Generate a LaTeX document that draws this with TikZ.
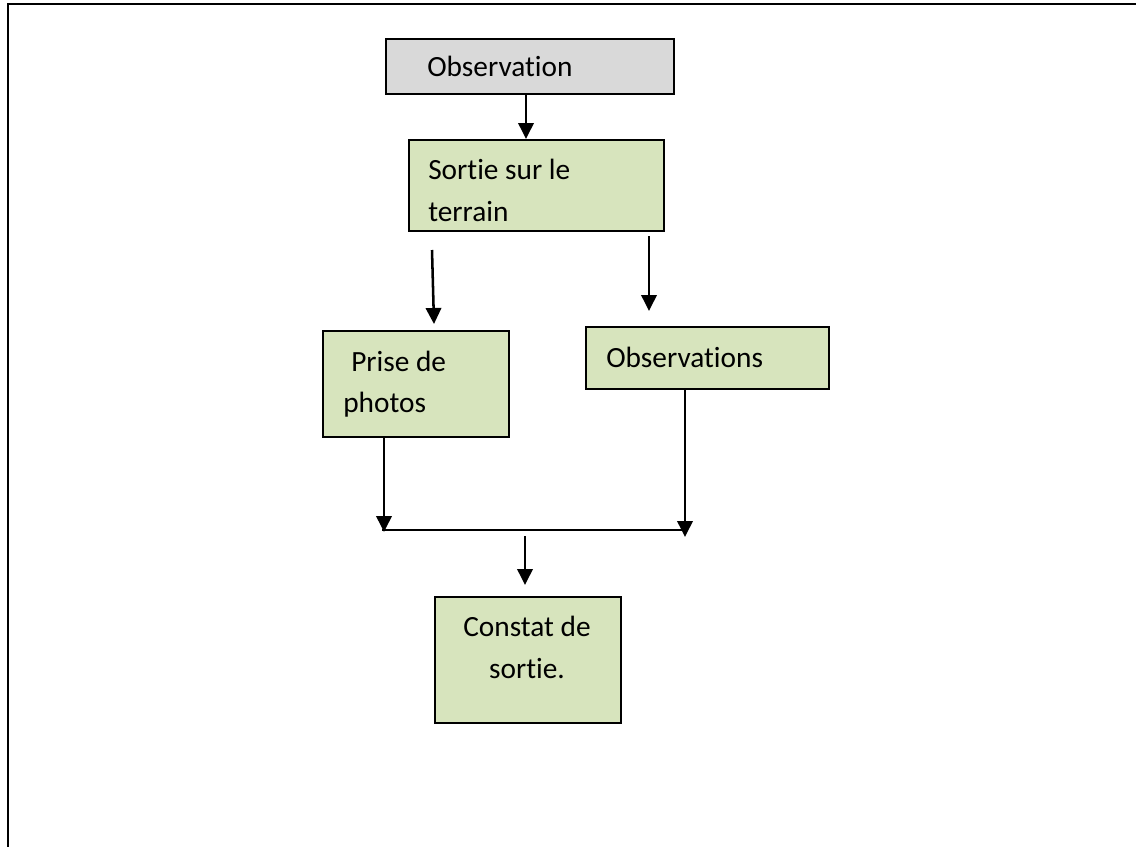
\documentclass[tikz,border=0pt]{standalone}
\usepackage{fontspec}
\setmainfont[Ligatures={NoCommon}]{Carlito}
\usetikzlibrary{arrows.meta}
\definecolor{boxgray}{HTML}{D9D9D9}
\definecolor{boxgreen}{HTML}{D7E4BD}
\tikzset{
  box/.style={draw=black, line width=1.8pt, inner sep=0pt, anchor=north west},
  greenbox/.style={box, fill=boxgreen},
  graybox/.style={box, fill=boxgray},
  txt/.style={inner sep=0pt, font=\fontsize{22}{26}\selectfont, anchor=base west},
  ctxt/.style={txt, anchor=base},
  arr/.style={line width=1.9pt, -{Triangle[width=11.5pt,length=12pt]}},
  plain/.style={line width=1.9pt}
}
\begin{document}
\begin{tikzpicture}[x=0.75pt,y=-0.75pt]
  \useasboundingbox (0,0) rectangle (1136,847);
  % open frame: top and left rules only
  \draw[line width=2pt] (1136,4) -- (8,4) -- (8,847);

  % boxes (size given in px)
  \node[graybox, minimum width=216pt, minimum height=41.25pt] (obs) at (385,38) {};
  \node[greenbox, minimum width=191.25pt, minimum height=68.25pt] (sortie) at (408,139) {};
  \node[greenbox, minimum width=139.5pt, minimum height=79.5pt] (prise) at (322,330) {};
  \node[greenbox, minimum width=182.25pt, minimum height=46.5pt] (obss) at (585,326) {};
  \node[greenbox, minimum width=139.5pt, minimum height=94.5pt] (constat) at (434,596) {};

  % labels
  \node[txt] (tobs) at (427,76) {Observation};
  \node[txt] (ts1) at (428,179) {Sortie sur le};
  \node[txt] (ts2) at (428,221) {terrain};
  \node[txt] (tp1) at (351,371) {Prise de};
  \node[txt] (tp2) at (343,412) {photos};
  \node[txt] (tob) at (606,367) {Observations};
  \node[ctxt] (tc1) at (527,636) {Constat de};
  \node[ctxt] (tc2) at (527,678) {sortie.};

  % free ends of the connectors
  \coordinate (l1) at (432,250);
  \coordinate (l2) at (434,324);
  \coordinate (r1) at (649,236);
  \coordinate (r2) at (649,311);
  \coordinate (jl) at (382,530);
  \coordinate (jr) at (687,530);
  \coordinate (pj) at (384,532);
  \coordinate (oj) at (685,537);
  \coordinate (m1) at (525,536);
  \coordinate (m2) at (525,585);

  % connectors
  \draw[arr] (obs.south -| 526,0) -- (sortie.north -| 526,0);
  \draw[arr] (l1) -- (l2);
  \draw[arr] (r1) -- (r2);
  \draw[arr] (prise.south -| pj) -- (pj);
  \draw[arr] (obss.south -| oj) -- (oj);
  \draw[plain] (jl) -- (jr);
  \draw[arr] (m1) -- (m2);
\end{tikzpicture}
\end{document}
